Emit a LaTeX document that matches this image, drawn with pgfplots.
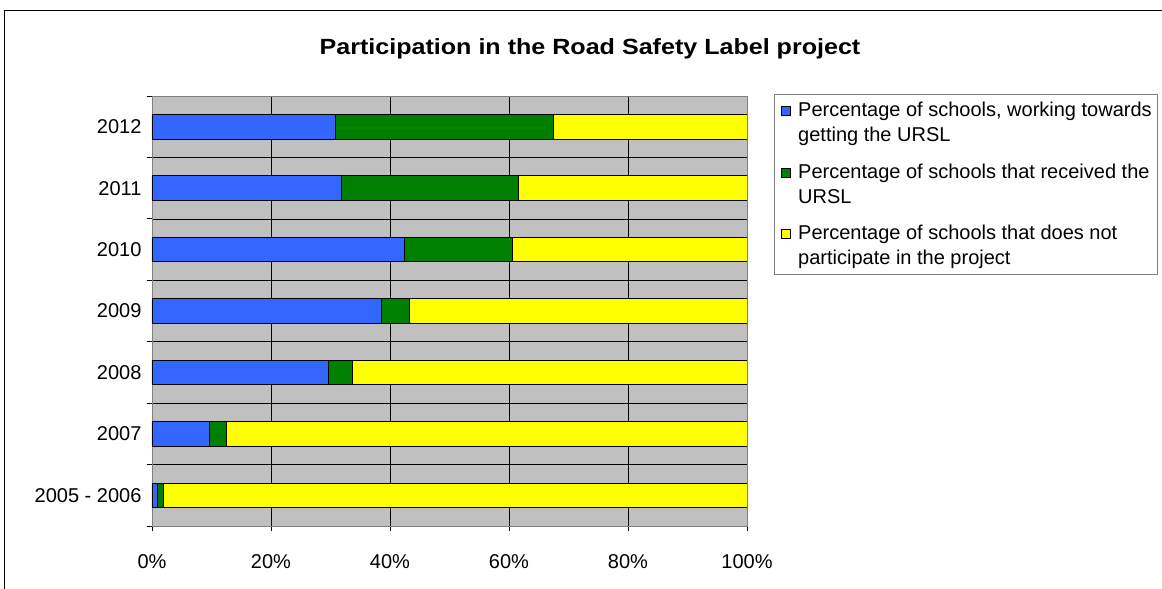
\documentclass[border=0pt]{standalone}
\usepackage{pgfplots}
\pgfplotsset{compat=1.18}
\usepackage{fontspec}
\setmainfont{Liberation Sans}
\definecolor{cblue}{RGB}{51,102,255}
\definecolor{cgreen}{RGB}{0,128,0}
\definecolor{cyellow}{RGB}{255,255,0}
\definecolor{cgray}{RGB}{192,192,192}
\definecolor{cframe}{RGB}{128,128,128}
\begin{document}
\begin{tikzpicture}
\path[use as bounding box] (0,0) rectangle (1162pt,589pt);
\draw[black, line width=0.8pt] (4pt,-5pt) -- (4pt,579pt) -- (1170pt,579pt);
\node[font=\bfseries\fontsize{22}{26}\selectfont] at (590pt,540pt) {\scalebox{1.14}[1]{Participation in the Road Safety Label project}};
\begin{axis}[
  at={(152pt,63pt)}, anchor=south west,
  scale only axis, width=595pt, height=430pt,
  xbar stacked, bar width=24.5pt,
  xmin=0, xmax=100, ymin=-0.5, ymax=6.5,
  axis background/.style={fill=cgray},
  axis line style={cframe, line width=0.8pt},
  xtick={0,20,...,100},
  xticklabel={\pgfmathprintnumber{\tick}\%},
  /pgf/number format/assume math mode=true,
  ytick={-0.5,0.5,...,6.5},
  yticklabels={},
  extra y ticks={0,1,2,3,4,5,6},
  extra y tick labels={2005 - 2006,2007,2008,2009,2010,2011,2012},
  extra y tick style={major tick length=0pt, grid=none},
  xmajorgrids, ymajorgrids,
  grid style={black, line width=0.6pt},
  tick align=outside, major tick length=5pt,
  tick style={black, line width=0.8pt},
  xtick pos=bottom, ytick pos=left,
  tick label style={font=\fontsize{20}{24}\selectfont},
  xticklabel style={yshift=-20pt},
  yticklabel style={xshift=-7pt},
  legend style={at={(1.0454,1.004)}, anchor=north west, draw=cframe, fill=white,
    font=\fontsize{20}{25}\selectfont, cells={anchor=west, align=left},
    row sep=16.5pt, inner xsep=3pt, inner ysep=6pt},
  legend image code/.code={%
    \draw[#1, draw=black, line width=0.6pt] (4pt,7.5pt) rectangle (13pt,16.5pt);
    \path[draw=none, fill=none] (0pt,12pt) -- (19pt,12pt);},
  every axis plot/.append style={draw=black, line width=0.9pt},
]
\addplot[fill=cblue] coordinates {(1.0,0) (9.6,1) (29.6,2) (38.5,3) (42.4,4) (31.8,5) (30.8,6)};
\addlegendentry{Percentage of schools, working towards\\getting the URSL}
\addplot[fill=cgreen] coordinates {(0.9,0) (2.9,1) (4.1,2) (4.8,3) (18.1,4) (29.8,5) (36.6,6)};
\addlegendentry{Percentage of schools that received the\\URSL}
\addplot[fill=cyellow] coordinates {(98.1,0) (87.5,1) (66.3,2) (56.7,3) (39.5,4) (38.4,5) (32.6,6)};
\addlegendentry{Percentage of schools that does not\\participate in the project}
\end{axis}
\end{tikzpicture}
\end{document}
